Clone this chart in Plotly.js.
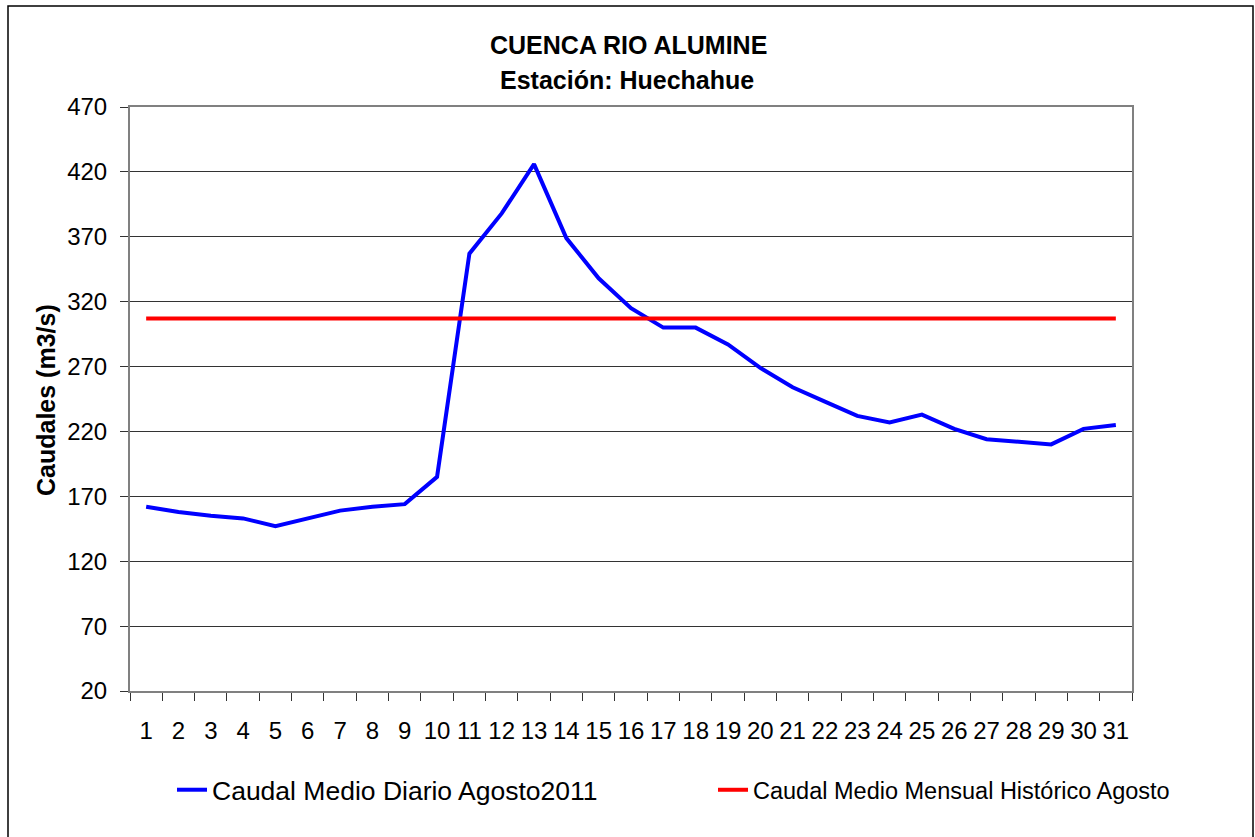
<!DOCTYPE html>
<html>
<head>
<meta charset="utf-8">
<script src="https://cdn.plot.ly/plotly-3.0.1.min.js"></script>
<style>html,body{margin:0;padding:0;background:#fff;}#chart{width:1255px;height:837px;}</style>
</head>
<body>
<div id="chart"></div>
<script>
const days = ["1","2","3","4","5","6","7","8","9","10","11","12","13","14","15","16","17","18","19","20","21","22","23","24","25","26","27","28","29","30","31"];
const caudalDiario = [162,158,155,153,147,153,159,162,164,185,357,388,426,369,338,315,300,300,287,269,254,243,232,227,233,222,214,212,210,222,225];
const caudalHistorico = [307,307,307,307,307,307,307,307,307,307,307,307,307,307,307,307,307,307,307,307,307,307,307,307,307,307,307,307,307,307,307];
const yTicks = [20,70,120,170,220,270,320,370,420,470];
const seriesNames = ["Caudal Medio Diario Agosto2011","Caudal Medio Mensual Histórico Agosto"];
const titleLines = ["CUENCA RIO ALUMINE","Estación: Huechahue"];
const yTitle = "Caudales (m3/s)";

const FONT = "Liberation Sans, Arial, sans-serif";
const L = 130, R = 123, T = 107, B = 146;
const W = 1255, H = 837;
const pw = W - L - R, ph = H - T - B;
function px(x){ return (x - L) / pw; }
function py(y){ return (H - B - y) / ph; }

const traces = [
  {x: days, y: caudalDiario, type: "scatter", mode: "lines", name: seriesNames[0],
   line: {color: "#0000ff", width: 4}, legend: "legend"},
  {x: days, y: caudalHistorico, type: "scatter", mode: "lines", name: seriesNames[1],
   line: {color: "#ff0000", width: 4}, legend: "legend2"}
];

const layout = {
  width: W, height: H,
  margin: {l: L, r: R, t: T, b: B, pad: 0},
  paper_bgcolor: "#fff", plot_bgcolor: "#fff",
  font: {family: FONT, size: 20, color: "#000"},
  showlegend: true,
  legend: {orientation: "h", x: px(172), xanchor: "left", y: py(790), yanchor: "middle",
           font: {family: FONT, size: 26.5, color: "#000"}},
  legend2: {orientation: "h", x: px(713), xanchor: "left", y: py(790), yanchor: "middle",
           font: {family: FONT, size: 23.5, color: "#000"}},
  xaxis: {type: "category", range: [-0.5, 30.5], tickson: "boundaries", ticks: "outside", ticklen: 8, tickcolor: "#333",
          showline: true, linecolor: "#808080", linewidth: 2, mirror: true, showgrid: false, tickangle: 0,
          tickfont: {family: FONT, size: 24, color: "#000"}, ticklabelstandoff: 17, fixedrange: true},
  yaxis: {range: [20, 470], tickvals: yTicks, ticktext: yTicks.map(String), ticks: "outside", ticklen: 8,
          tickcolor: "#333", showline: true, linecolor: "#808080", linewidth: 2, mirror: true,
          showgrid: true, gridcolor: "#333", gridwidth: 1, zeroline: false,
          tickfont: {family: FONT, size: 24, color: "#000"}, ticklabelstandoff: 8},
  annotations: [
    {text: "<b>" + titleLines[0] + "</b>", xref: "paper", yref: "paper", x: px(628), y: py(45),
     xanchor: "center", yanchor: "middle", showarrow: false, font: {family: FONT, size: 25, color: "#000"}},
    {text: "<b>" + titleLines[1] + "</b>", xref: "paper", yref: "paper", x: px(627), y: py(80),
     xanchor: "center", yanchor: "middle", showarrow: false, font: {family: FONT, size: 25, color: "#000"}},
    {text: "<b>" + yTitle + "</b>", xref: "paper", yref: "paper", x: px(46), y: py(400),
     xanchor: "center", yanchor: "middle", textangle: -90, showarrow: false, font: {family: FONT, size: 25, color: "#000"}}
  ],
  shapes: [
    {type: "rect", xref: "paper", yref: "paper", x0: px(8), x1: px(1253), y0: py(845), y1: py(6),
     line: {color: "#000", width: 1.5}, fillcolor: "rgba(0,0,0,0)", layer: "below"}
  ]
};

Plotly.newPlot("chart", traces, layout, {displayModeBar: false, staticPlot: true});
</script>
</body>
</html>
